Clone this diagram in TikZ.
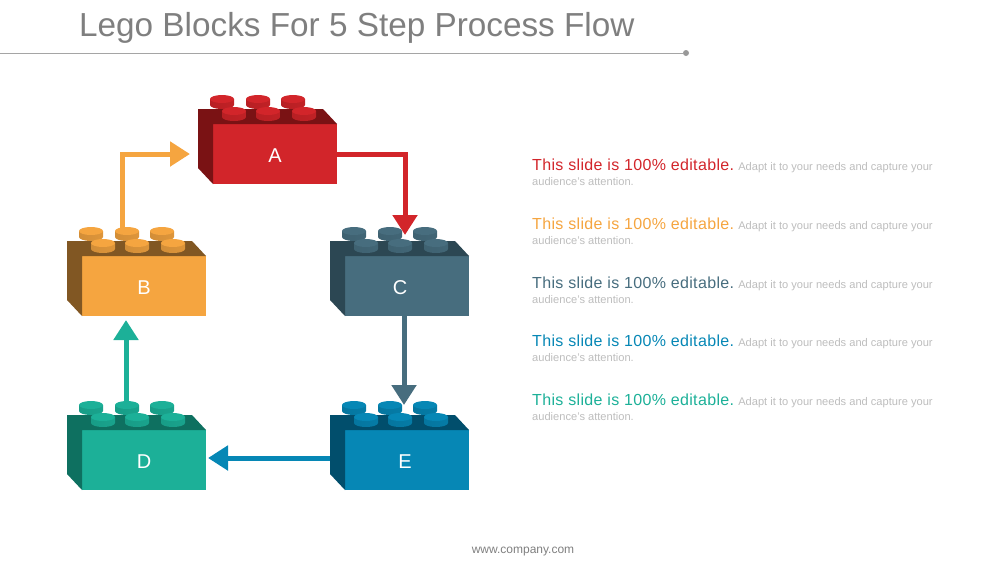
\documentclass[tikz,border=0pt]{standalone}
\usepackage{fontspec}
\setmainfont{Liberation Sans}
\usetikzlibrary{positioning}
\usetikzlibrary{arrows.meta}

\definecolor{redbase}{HTML}{D2252A}
\definecolor{reddark}{HTML}{7A1214}
\definecolor{orangebase}{HTML}{F5A540}
\definecolor{orangedark}{HTML}{815723}
\definecolor{slatebase}{HTML}{476D7E}
\definecolor{slatedark}{HTML}{2C4753}
\definecolor{bluebase}{HTML}{0687B5}
\definecolor{bluedark}{HTML}{014E6C}
\definecolor{tealbase}{HTML}{1CB098}
\definecolor{tealdark}{HTML}{0E7060}
\definecolor{titlegrey}{HTML}{7F7F7F}
\definecolor{notegrey}{HTML}{BDBDBD}

\newfontfamily\headfont[LetterSpace=2.2]{Liberation Sans}

\tikzset{
	front/.style = {rectangle,minimum width = 124pt,minimum height = 60pt,inner sep = 0pt,outer sep = 0pt,text = white,text height = 16pt,text depth = 0pt,font = \fontsize{20}{20}\selectfont},
	flow/.style = {line width = 5pt,-{Triangle[width = 24pt,length = 20pt]}},
	note/.style = {anchor = north west,inner sep = 0pt,align = left,text = notegrey,font = \fontsize{11.1}{15}\selectfont}
}

% one stud: x, y of the top face, relative to the corner of the front face
\newcommand{\legopeg}[4]{
	\shade[left color = #3!30!#4,middle color = #4,right color = #3!20!#4] (#1-12,#2) -- (#1-12,#2+6) arc[start angle = 180,end angle = 0,x radius = 12,y radius = 4] -- (#1+12,#2) -- cycle;
	\fill[#4] (#1,#2) ellipse[x radius = 12,y radius = 4];
}
% side, top and six studs of the block whose front face is node #1
\newcommand{\legobrick}[3]{
	\begin{scope}[shift = {(#1.north west)}]
		\fill[#2] (124,0) -- (110,-15) -- (-15,-15) -- (-15,44) -- (0,60) -- (0,0) -- cycle;
		\legopeg{9}{-25}{#2}{#3}
		\legopeg{45}{-25}{#2}{#3}
		\legopeg{80}{-25}{#2}{#3}
		\legopeg{21}{-13}{#2}{#3}
		\legopeg{55}{-13}{#2}{#3}
		\legopeg{91}{-13}{#2}{#3}
	\end{scope}
}
\newcommand{\notehead}[2]{\textcolor{#1}{\headfont\fontsize{16}{15}\selectfont #2}}

\begin{document}
\begin{tikzpicture}[x = 1pt,y = -1pt]
	\useasboundingbox (0,0) rectangle (1001,563);

	\node[anchor = west,inner sep = 0pt,text = titlegrey,font = \fontsize{33.3}{33}\selectfont] at (79,28) (title) {Lego Blocks For 5 Step Process Flow};
	\coordinate (rulestart) at (0,53);
	\node[circle,fill = titlegrey!80,inner sep = 0pt,minimum size = 6pt] at (686,53) (ruleend) {};
	\draw[titlegrey!70,line width = .7pt] (rulestart) -- (ruleend);

	\node[front,fill = redbase] at (275,154) (a) {A};
	\node[front,fill = orangebase] at (144,286) (b) {B};
	\node[front,fill = slatebase,right = 139pt of b] (c) {C\hspace*{14pt}};
	\node[front,fill = tealbase,below = 114pt of b] (d) {D};
	\node[front,fill = bluebase,right = 139pt of d] (e) {E\hspace*{4pt}};

	\legobrick{a}{reddark}{redbase}
	\legobrick{b}{orangedark}{orangebase}
	\legobrick{c}{slatedark}{slatebase}
	\legobrick{d}{tealdark}{tealbase}
	\legobrick{e}{bluedark}{bluebase}

	\draw[flow,redbase] (a.east) -| ([shift = {(-2pt,21pt)}]c.north);
	\draw[flow,slatebase] ([xshift = -3pt]c.south) -- ([shift = {(-3pt,25pt)}]e.north);
	\draw[flow,bluebase] ([shift = {(-15pt,2pt)}]e.west) -- ([shift = {(2pt,2pt)}]d.east);
	\draw[flow,tealbase] ([shift = {(-18pt,28pt)}]d.north) -- ([shift = {(-18pt,-4pt)}]b.south);
	\draw[flow,orangebase] ([shift = {(-22pt,28pt)}]b.north) |- ([xshift = -23pt]a.west);

	\node[note] at (532,159) (n1) {\notehead{redbase}{This slide is 100\% editable.} Adapt it to your needs and capture your\\audience's attention.};
	\node[note,below = 31.6pt of n1.south west,anchor = north west] (n2) {\notehead{orangebase}{This slide is 100\% editable.} Adapt it to your needs and capture your\\audience's attention.};
	\node[note,below = 31.6pt of n2.south west,anchor = north west] (n3) {\notehead{slatebase}{This slide is 100\% editable.} Adapt it to your needs and capture your\\audience's attention.};
	\node[note,below = 31.6pt of n3.south west,anchor = north west] (n4) {\notehead{bluebase}{This slide is 100\% editable.} Adapt it to your needs and capture your\\audience's attention.};
	\node[note,below = 31.6pt of n4.south west,anchor = north west] (n5) {\notehead{tealbase}{This slide is 100\% editable.} Adapt it to your needs and capture your\\audience's attention.};

	\node[text = titlegrey,inner sep = 0pt,font = \fontsize{12}{12}\selectfont] at (523,552) (site) {www.company.com};
\end{tikzpicture}
\end{document}
